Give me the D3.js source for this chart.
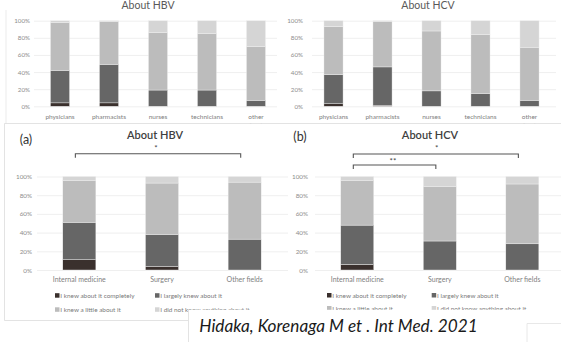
<!DOCTYPE html>
<html>
<head>
<meta charset="utf-8">
<script src="https://cdn.jsdelivr.net/npm/d3@7"></script>
<style>
  html, body { margin: 0; padding: 0; background: #fff; }
  svg { display: block; }
  text { font-family: Lato, "Open Sans", sans-serif; }
</style>
</head>
<body>
<svg id="chart" width="561" height="342"></svg>
<script>
// Awareness of HBV / HCV, share of respondents (%) per answer level
const seriesKeys = ["completely", "largely", "little", "none"];
const seriesLabels = [
  "I knew about it completely",
  "I largely knew about it",
  "I knew a little about it",
  "I did not know anything about it"
];
const seriesColors = ["#3a302d", "#666666", "#bcbcbc", "#d5d5d5"];

// By profession
const professions = ["physicians", "pharmacists", "nurses", "technicians", "other professions"];
const hbvProfCompletely = [4, 4, 0, 0, 0];
const hbvProfLargely    = [38, 45, 19, 19, 7];
const hbvProfLittle     = [56, 50, 67, 66, 63];
const hbvProfNone       = [2, 1, 14, 15, 30];

const hcvProfCompletely = [3, 1, 0, 0, 0];
const hcvProfLargely    = [34, 45, 18, 15, 7];
const hcvProfLittle     = [56, 53, 70, 69, 62];
const hcvProfNone       = [7, 1, 12, 16, 31];

// By department
const fields = ["Internal medicine", "Surgery", "Other fields"];
const hbvFieldCompletely = [11, 4, 0];
const hbvFieldLargely    = [40, 34, 33];
const hbvFieldLittle     = [45, 55, 61];
const hbvFieldNone       = [4, 7, 6];

const hcvFieldCompletely = [6, 0, 0];
const hcvFieldLargely    = [42, 31, 28];
const hcvFieldLittle     = [48, 58, 64];
const hcvFieldNone       = [4, 11, 8];

const yTicks = [0, 20, 40, 60, 80, 100];

function rows(cats, a, b, c, d) {
  return cats.map((cat, i) => ({ cat, completely: a[i], largely: b[i], little: c[i], none: d[i] }));
}

const svg = d3.select("#chart");
svg.append("rect").attr("width", 561).attr("height", 342).attr("fill", "#fff");

function drawPanel(p) {
  const g = svg.append("g");
  const data = rows(p.cats, ...p.values);
  const x = d3.scaleBand().domain(p.cats).range(p.xRange)
    .paddingInner(p.pad).paddingOuter(p.pad / 2);
  const y = d3.scaleLinear().domain([0, 100]).range([p.y0, p.y100]);

  // gridlines + percentage labels
  const axis = d3.axisLeft(y).tickValues(yTicks).tickFormat(d => d + "%")
    .tickSize(-(p.gridRight - p.gridLeft)).tickPadding(p.tickPad);
  const ag = g.append("g").attr("transform", `translate(${p.gridLeft},0)`).call(axis);
  ag.select(".domain").remove();
  ag.selectAll(".tick line").attr("stroke", "#ebebeb").attr("stroke-width", 0.8);
  ag.selectAll(".tick text").attr("fill", "#8c8c8c").attr("font-size", p.tickFont)
    .attr("font-family", "Lato, sans-serif");

  // stacked bars
  const stack = d3.stack().keys(seriesKeys)(data);
  g.selectAll("g.layer").data(stack).join("g").attr("class", "layer")
    .attr("fill", (d, i) => seriesColors[i])
    .selectAll("rect").data(d => d).join("rect")
    .attr("x", d => x(d.data.cat))
    .attr("width", x.bandwidth())
    .attr("y", d => y(d[1]))
    .attr("height", d => Math.max(0, y(d[0]) - y(d[1])))
    .attr("stroke", "#f2f2f2").attr("stroke-width", 0.4);

  // category labels
  p.cats.forEach(c => {
    const lines = p.wrap && c.includes(" ") ? c.split(" ") : [c];
    lines.forEach((ln, k) => {
      g.append("text").attr("x", x(c) + x.bandwidth() / 2)
        .attr("y", p.catY + k * 8.5).attr("text-anchor", "middle")
        .attr("fill", "#808080").attr("font-size", p.catFont).text(ln);
    });
  });

  // title
  g.append("text").attr("x", p.titleX).attr("y", p.titleY).attr("text-anchor", "middle")
    .attr("fill", p.titleColor).attr("font-size", p.titleFont)
    .attr("font-weight", p.titleWeight).text(p.title);

  return { g, x, y };
}

// ---------- upper row: by profession ----------
drawPanel({
  cats: professions,
  values: [hbvProfCompletely, hbvProfLargely, hbvProfLittle, hbvProfNone],
  xRange: [35.5, 280.5], pad: 0.61, y0: 106.3, y100: 20.7,
  gridLeft: 34, gridRight: 277, tickPad: 4, tickFont: 6.2,
  catY: 118.5, catFont: 6.5, wrap: true,
  title: "About HBV", titleX: 148, titleY: 8.5, titleFont: 10.5, titleColor: "#595959", titleWeight: 400
});
drawPanel({
  cats: professions,
  values: [hcvProfCompletely, hcvProfLargely, hcvProfLittle, hcvProfNone],
  xRange: [309, 554], pad: 0.61, y0: 106.3, y100: 20.7,
  gridLeft: 312, gridRight: 556, tickPad: 9, tickFont: 6.2,
  catY: 118.5, catFont: 6.5, wrap: true,
  title: "About HCV", titleX: 428, titleY: 8.5, titleFont: 10.5, titleColor: "#595959", titleWeight: 400
});
// faint frame of the upper figure
svg.append("line").attr("x1", 6).attr("x2", 6).attr("y1", 10).attr("y2", 124)
  .attr("stroke", "#e6e6e6").attr("stroke-width", 0.8);

// ---------- lower row: by department ----------
svg.append("rect").attr("x", 0).attr("y", 123.5).attr("width", 561).attr("height", 218.5).attr("fill", "#fff");
svg.append("path").attr("d", "M4.5,123.5 H561 M4.5,123.5 V320.5 H188")
  .attr("fill", "none").attr("stroke", "#dcdcdc").attr("stroke-width", 0.8);

const A = drawPanel({
  cats: fields,
  values: [hbvFieldCompletely, hbvFieldLargely, hbvFieldLittle, hbvFieldNone],
  xRange: [38, 286], pad: 0.6, y0: 270, y100: 176.5,
  gridLeft: 37, gridRight: 288, tickPad: 5, tickFont: 6.3,
  catY: 281.8, catFont: 7, wrap: false,
  title: "About HBV", titleX: 155, titleY: 139, titleFont: 11, titleColor: "#404040", titleWeight: 600
});
const B = drawPanel({
  cats: fields,
  values: [hcvFieldCompletely, hcvFieldLargely, hcvFieldLittle, hcvFieldNone],
  xRange: [316, 563.6], pad: 0.6, y0: 270, y100: 176.5,
  gridLeft: 315, gridRight: 561, tickPad: 7, tickFont: 6.3,
  catY: 281.8, catFont: 7, wrap: false,
  title: "About HCV", titleX: 430, titleY: 138.5, titleFont: 11, titleColor: "#404040", titleWeight: 600
});

svg.append("text").attr("x", 26).attr("y", 143.5).attr("text-anchor", "middle")
  .attr("font-size", 12.5).attr("fill", "#333").text("(a)");
svg.append("text").attr("x", 300).attr("y", 141).attr("text-anchor", "middle")
  .attr("font-size", 12.5).attr("fill", "#333").text("(b)");

// significance brackets between departments
function bracket(P, c1, c2, yLine, label, labelX, labelY) {
  const bx = c => P.x(c) + P.x.bandwidth() * 0.38;
  svg.append("path")
    .attr("d", `M${bx(c1)},${yLine + 4} V${yLine} H${bx(c2)} V${yLine + 4}`)
    .attr("fill", "none").attr("stroke", "#555").attr("stroke-width", 1.1);
  svg.append("text").attr("x", labelX).attr("y", labelY).attr("text-anchor", "middle")
    .attr("font-size", 8).attr("fill", "#444").text(label);
}
bracket(A, "Internal medicine", "Other fields", 153.7, "*", 156, 150.5);
bracket(B, "Internal medicine", "Other fields", 154, "*", 436.7, 150.8);
bracket(B, "Internal medicine", "Surgery", 165, "**", 393, 163.5);

// legends
function legend(xs, ys) {
  seriesLabels.forEach((lab, i) => {
    const lx = xs[i % 2], ly = ys[Math.floor(i / 2)];
    svg.append("rect").attr("x", lx).attr("y", ly - 2.3).attr("width", 4.5).attr("height", 4.5)
      .attr("fill", seriesColors[i]);
    svg.append("text").attr("x", lx + 5.3).attr("y", ly + 2.3)
      .attr("font-size", 6.4).attr("fill", "#7a7a7a").text(lab);
  });
}
legend([55, 155], [295.5, 309.6]);
legend([327, 431.7], [295.3, 308.3]);

// citation box
svg.append("rect").attr("x", 188).attr("y", 309.8).attr("width", 373).attr("height", 33).attr("fill", "#fff");
svg.append("line").attr("x1", 188.5).attr("x2", 188.5).attr("y1", 309.8).attr("y2", 342)
  .attr("stroke", "#dcdcdc").attr("stroke-width", 0.8);
svg.append("path").attr("d", "M527,342 V323.5 H561").attr("fill", "none")
  .attr("stroke", "#e2e2e2").attr("stroke-width", 0.8);
svg.append("text").attr("x", 199.3).attr("y", 331.7)
  .attr("font-family", "'Open Sans', sans-serif").attr("font-style", "italic")
  .attr("font-size", 17.2).attr("fill", "#1a1a1a")
  .text("Hidaka, Korenaga M et . Int Med. 2021");
</script>
</body>
</html>
